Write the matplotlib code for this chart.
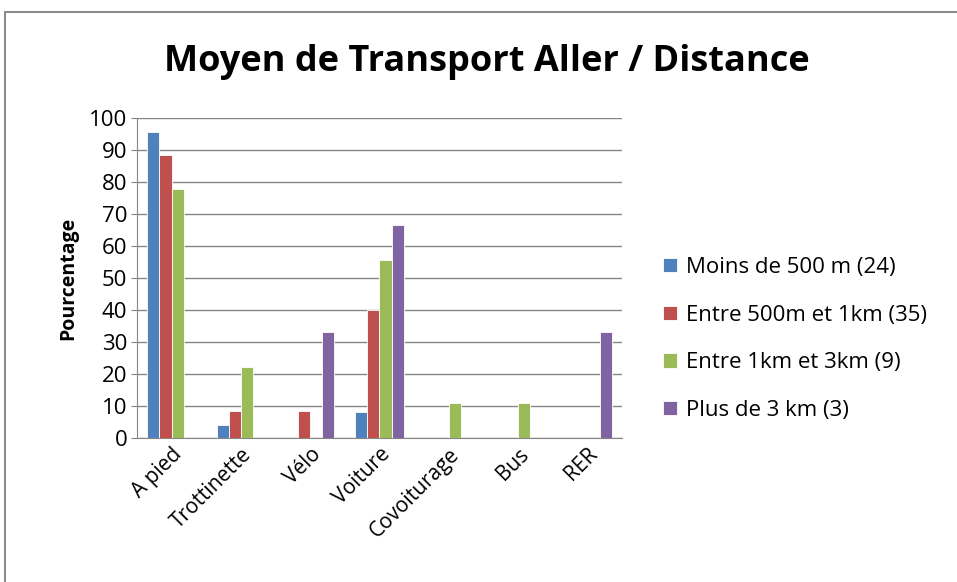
import numpy as np
import matplotlib.pyplot as plt
from matplotlib.patches import Rectangle

plt.rcParams['font.family'] = ['Open Sans', 'DejaVu Sans']

categories = ["A pied", "Trottinette", "Vélo", "Voiture", "Covoiturage", "Bus", "RER"]
series = ["Moins de 500 m (24)", "Entre 500m et 1km (35)",
          "Entre 1km et 3km (9)", "Plus de 3 km (3)"]
moins_500 = [95.8, 4.2, 0, 8.3, 0, 0, 0]
entre_500_1k = [88.6, 8.6, 8.6, 40.0, 0, 0, 0]
entre_1k_3k = [77.8, 22.2, 0, 55.6, 11.1, 11.1, 0]
plus_3k = [0, 0, 33.3, 66.7, 0, 0, 33.3]
colors = ["#4f81bd", "#c0504d", "#9bbb59", "#8064a2"]

fig = plt.figure(figsize=(9.57, 5.82), dpi=100)
# outer chart border (gray, top + left visible)
fig.patches.append(Rectangle((0.005, -0.05), 1.2, 1.03, transform=fig.transFigure,
                             fill=False, edgecolor="#8c8c8c", linewidth=1.5))

ax = fig.add_axes([0.143, 0.247, 0.507, 0.55])
x = np.arange(len(categories))
w = 0.175
for i, (vals, name) in enumerate(zip([moins_500, entre_500_1k, entre_1k_3k, plus_3k], series)):
    ax.bar(x - 1.5 * w + i * w, vals, width=w, color=colors[i], label=name,
           edgecolor="white", linewidth=0.6, zorder=3)

ax.set_xlim(-0.5, len(categories) - 0.5)
ax.set_ylim(0, 100)
ax.set_yticks(range(0, 101, 10))
ax.yaxis.grid(True, color="#868686", linewidth=1, zorder=0)
for s in ["top", "right"]:
    ax.spines[s].set_visible(False)
ax.spines["left"].set_color("#868686")
ax.spines["bottom"].set_color("#868686")
ax.tick_params(axis="y", labelsize=16, length=4, color="#868686", pad=3)
ax.tick_params(axis="x", labelsize=15, length=0, pad=4)
ax.set_xticks(x)
ax.set_xticklabels(categories, rotation=45, ha="right", rotation_mode="anchor")
ax.set_ylabel("Pourcentage", fontsize=14, fontweight="bold", labelpad=8)

fig.text(0.509, 0.893, "Moyen de Transport Aller / Distance", ha="center", va="center",
         fontsize=26, fontweight="bold")

ax.legend(loc="center left", bbox_to_anchor=(1.085, 0.31), frameon=False,
          fontsize=16, handlelength=0.6, handleheight=0.6, labelspacing=1.2,
          handletextpad=0.4, borderpad=0, borderaxespad=0)

fig.savefig("out.png", dpi=100)
